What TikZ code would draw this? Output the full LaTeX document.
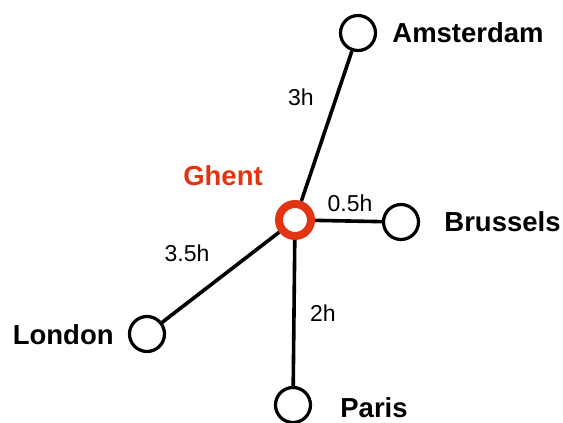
\documentclass[tikz,border=0pt]{standalone}
\usepackage{fontspec}
\setmainfont{Liberation Sans}
\usepackage{tikz}
\definecolor{ghentred}{RGB}{226,52,18}
\tikzstyle{city} = [circle, minimum size=17.5pt, inner sep=0pt, draw=black, line width=1.6pt, fill=white]
\tikzstyle{hub} = [circle, minimum size=16pt, inner sep=0pt, draw=ghentred, line width=4pt, fill=white]
\tikzstyle{cityname} = [inner sep=0pt, font=\fontsize{13.75}{16}\selectfont\bfseries]
\tikzstyle{hours} = [inner sep=0pt, font=\fontsize{11.5}{14}\selectfont]
\tikzstyle{road} = [line width=1.8pt]

\begin{document}
\begin{tikzpicture}[x=0.5pt, y=-0.5pt]
\useasboundingbox (0,0) rectangle (563,423);
\node (ghent) [hub] at (295,220) {};
\node (ams) [city] at (358,33) {};
\node (bru) [city] at (401,222) {};
\node (lon) [city] at (147,334) {};
\node (par) [city] at (293,405) {};

\node (ghentlbl) [cityname, text=ghentred] at (223,176) {Ghent};
\node (amslbl) [cityname, anchor=west] at (392,33) {Amsterdam};
\node (brulbl) [cityname, anchor=west] at (444,222) {Brussels};
\node (lonlbl) [cityname, anchor=east] at (114,335) {London};
\node (parlbl) [cityname, anchor=west] at (340,408) {Paris};

\draw[road] (ghent) -- (ams);
\draw[road] (ghent) -- (bru);
\draw[road] (ghent) -- (lon);
\draw[road] (ghent) -- (par);

\node (t3) [hours] at (301,97) {3h};
\node (t05) [hours] at (350,203) {0.5h};
\node (t35) [hours] at (187,253) {3.5h};
\node (t2) [hours] at (323,313) {2h};
\end{tikzpicture}
\end{document}
